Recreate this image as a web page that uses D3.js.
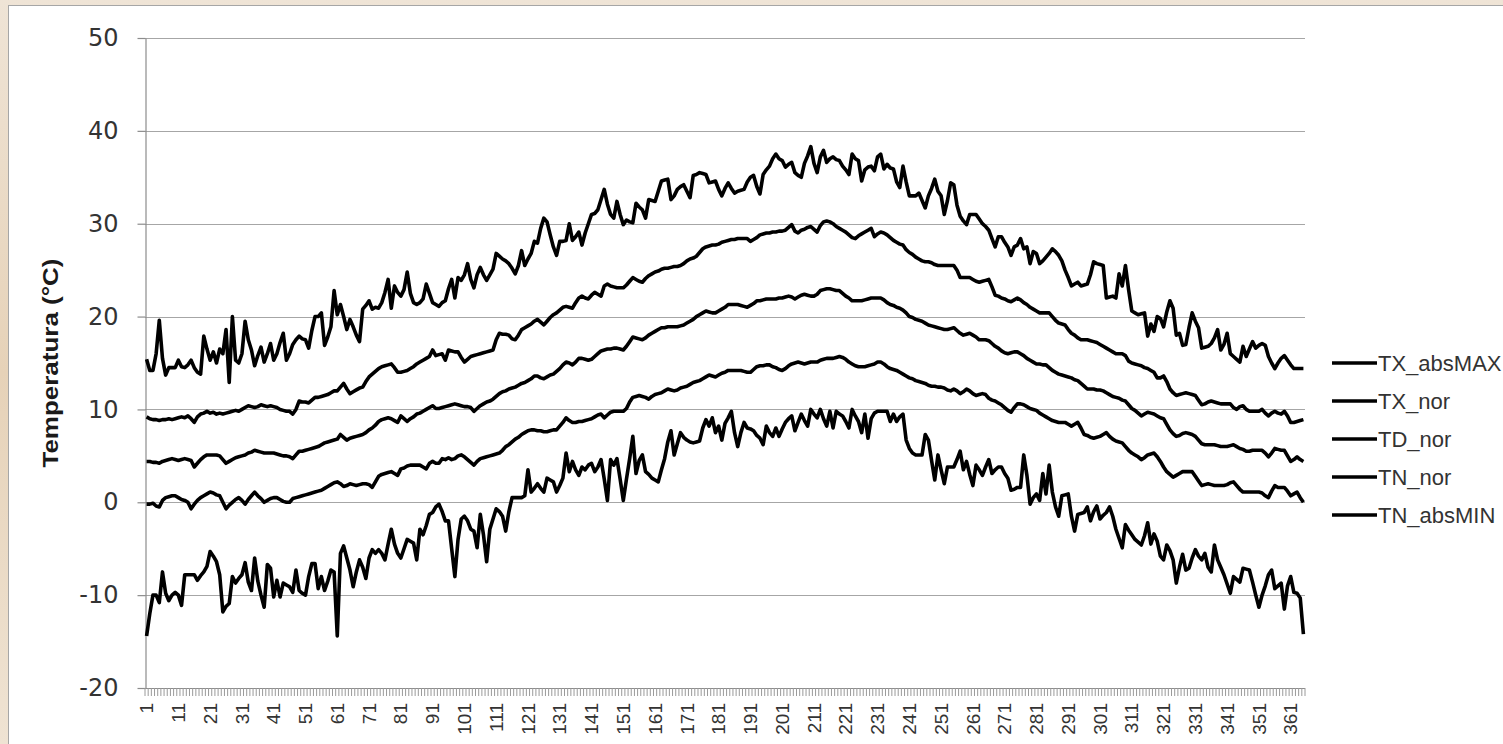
<!DOCTYPE html>
<html>
<head>
<meta charset="utf-8">
<script src="https://cdn.jsdelivr.net/npm/d3@7.9.0/dist/d3.min.js"></script>
<style>
  body { margin: 0; background: #eadcc9; }
  svg { display: block; }
</style>
</head>
<body>
<svg id="chart" width="1503" height="744"></svg>
<script>
// categories and ticks
const days = d3.range(1, 366);
const xTickLabels = [1, 11, 21, 31, 41, 51, 61, 71, 81, 91, 101, 111, 121, 131, 141, 151, 161, 171, 181,
  191, 201, 211, 221, 231, 241, 251, 261, 271, 281, 291, 301, 311, 321, 331, 341, 351, 361];
const yTicks = [-20, -10, 0, 10, 20, 30, 40, 50];
const seriesNames = ["TX_absMAX", "TX_nor", "TD_nor", "TN_nor", "TN_absMIN"];
const yTitle = "Temperatura (°C)";

// daily values (°C)
const txAbsMax = [
  15.4, 14.2, 14.2, 16.0, 19.6, 15.5, 13.7, 14.5, 14.5, 14.5,
  15.3, 14.6, 14.5, 14.8, 15.3, 14.5, 14.0, 13.8, 17.9, 16.5,
  15.3, 16.2, 15.0, 16.5, 16.0, 18.6, 12.9, 20.0, 15.3, 15.0,
  16.0, 19.5, 17.5, 16.4, 14.7, 15.8, 16.7, 15.1, 16.0, 17.1,
  15.3, 16.0, 17.2, 18.2, 15.3, 16.0, 17.0, 17.5, 17.9, 17.6,
  17.5, 16.6, 18.5, 20.0, 20.0, 20.4, 16.9, 17.8, 18.9, 22.8,
  20.2, 21.3, 20.0, 18.6, 19.7, 18.9, 18.0, 17.3, 20.8, 21.2,
  21.7, 20.8, 21.0, 20.9, 21.5, 22.6, 24.0, 20.9, 23.3, 22.6,
  22.2, 22.9, 24.8, 22.5, 21.5, 21.3, 21.5, 21.9, 23.5, 22.5,
  21.5, 21.3, 21.1, 21.5, 21.7, 23.0, 24.0, 22.0, 24.2, 23.9,
  24.5, 25.7, 24.0, 23.1, 24.5, 25.3, 24.5, 23.9, 24.5, 25.1,
  26.8, 26.5, 26.2, 26.0, 25.7, 25.2, 24.6, 25.5, 27.1, 25.5,
  26.2, 26.8, 28.1, 27.9, 29.5, 30.6, 30.2, 28.8, 27.5, 26.6,
  28.1, 28.1, 28.2, 30.0, 28.2, 28.6, 29.1, 27.7, 29.0, 30.0,
  31.0, 31.1, 31.5, 32.6, 33.7, 32.1, 31.0, 30.6, 32.4, 31.0,
  29.9, 30.4, 30.2, 30.1, 32.2, 31.8, 31.5, 30.6, 32.6, 32.5,
  32.4, 33.5, 34.6, 34.7, 34.8, 32.6, 33.0, 33.7, 34.0, 34.2,
  33.5, 32.8, 35.2, 35.3, 35.5, 35.4, 35.3, 34.4, 34.5, 34.6,
  33.7, 33.0, 33.8, 34.4, 33.8, 33.3, 33.5, 33.6, 33.7, 34.5,
  35.0, 35.2, 34.0, 33.2, 35.3, 35.8, 36.2, 37.0, 37.5, 37.0,
  36.8, 36.1, 36.4, 36.6, 35.5, 35.2, 35.0, 36.5, 37.3, 38.3,
  36.5, 35.5, 37.2, 37.9, 36.6, 37.0, 37.2, 36.9, 36.8, 36.2,
  35.8, 35.3, 37.5, 37.0, 36.8, 34.6, 35.8, 36.1, 36.2, 35.7,
  37.2, 37.5, 35.9, 36.4, 36.0, 35.9, 34.5, 33.9, 36.2, 34.5,
  33.0, 33.0, 33.0, 33.3, 32.5, 31.7, 33.0, 33.8, 34.8, 33.5,
  33.0, 31.0, 32.5, 34.4, 34.2, 32.0, 30.8, 30.3, 29.9, 31.0,
  31.0, 31.0, 30.5, 30.0, 29.7, 29.3, 28.4, 27.5, 28.6, 28.6,
  28.0, 27.5, 26.6, 27.5, 27.7, 28.4, 27.3, 27.5, 25.7, 27.0,
  26.8, 25.7, 26.0, 26.4, 26.8, 27.3, 27.0, 26.6, 26.0, 25.0,
  24.2, 23.3, 23.5, 23.7, 23.3, 23.4, 23.5, 24.5, 25.9, 25.7,
  25.6, 25.5, 22.0, 22.1, 22.2, 22.0, 24.6, 23.3, 25.5, 22.9,
  20.6, 20.4, 20.2, 20.3, 20.4, 17.9, 19.2, 18.4, 20.0, 19.8,
  18.9, 20.5, 21.7, 20.9, 18.0, 18.2, 16.9, 17.0, 18.8, 20.4,
  19.5, 18.8, 16.6, 16.7, 16.8, 17.1, 17.7, 18.6, 16.4, 17.0,
  18.2, 16.0, 15.7, 15.4, 15.1, 16.8, 15.7, 16.5, 17.3, 16.6,
  16.9, 17.1, 16.9, 15.7, 15.0, 14.4, 15.0, 15.5, 15.8, 15.3,
  14.8, 14.4, 14.4, 14.4, 14.4
];
const txNor = [
  9.2, 9.0, 8.9, 8.9, 8.8, 8.9, 8.9, 9.0, 8.9, 9.0,
  9.1, 9.2, 9.1, 9.3, 9.0, 8.6, 9.2, 9.5, 9.6, 9.8,
  9.6, 9.7, 9.5, 9.6, 9.5, 9.6, 9.7, 9.8, 9.9, 9.8,
  10.0, 10.2, 10.4, 10.3, 10.2, 10.3, 10.5, 10.4, 10.3, 10.4,
  10.3, 10.2, 10.0, 9.9, 9.8, 9.8, 9.5, 10.0, 10.9, 10.8,
  10.8, 10.7, 11.0, 11.3, 11.3, 11.4, 11.5, 11.6, 11.8, 12.0,
  12.0, 12.4, 12.8, 12.2, 11.7, 11.9, 12.1, 12.3, 12.4, 13.0,
  13.5, 13.8, 14.1, 14.4, 14.6, 14.7, 14.8, 14.9, 14.5, 14.0,
  14.0, 14.1, 14.2, 14.4, 14.6, 14.9, 15.1, 15.3, 15.5, 15.7,
  16.4, 15.8, 15.9, 16.0, 15.3, 16.4, 16.3, 16.2, 16.2, 15.6,
  15.1, 15.4, 15.7, 15.8, 15.9, 16.0, 16.1, 16.2, 16.3, 16.4,
  17.5, 18.2, 18.1, 18.1, 18.0, 17.6, 17.5, 18.0, 18.6, 18.8,
  19.0, 19.2, 19.5, 19.7, 19.4, 19.1, 19.5, 19.9, 20.2, 20.4,
  20.7, 21.0, 21.1, 21.0, 20.9, 21.5, 22.0, 22.2, 22.0, 21.9,
  22.3, 22.6, 22.4, 22.2, 23.3, 23.5, 23.3, 23.2, 23.1, 23.1,
  23.1, 23.4, 23.8, 24.2, 24.0, 23.8, 23.7, 24.1, 24.4, 24.6,
  24.8, 24.9, 25.1, 25.2, 25.2, 25.3, 25.4, 25.4, 25.5, 25.7,
  26.0, 26.2, 26.3, 26.5, 26.9, 27.3, 27.5, 27.6, 27.7, 27.7,
  27.8, 28.0, 28.1, 28.2, 28.3, 28.3, 28.4, 28.4, 28.4, 28.4,
  28.1, 28.3, 28.5, 28.8, 28.9, 29.0, 29.0, 29.1, 29.1, 29.2,
  29.2, 29.3, 29.6, 29.9, 29.2, 29.0, 29.3, 29.4, 29.6, 29.7,
  29.4, 29.1, 29.8, 30.2, 30.3, 30.2, 30.0, 29.7, 29.5, 29.3,
  29.1, 28.8, 28.5, 28.4, 28.7, 28.9, 29.1, 29.3, 29.5, 28.6,
  28.9, 29.1, 29.0, 28.8, 28.5, 28.2, 28.0, 27.8, 27.7, 27.2,
  26.9, 26.7, 26.4, 26.2, 26.0, 25.9, 25.9, 25.8, 25.6, 25.5,
  25.5, 25.5, 25.5, 25.5, 25.5, 25.0, 24.2, 24.2, 24.2, 24.2,
  24.0, 23.8, 23.7, 23.8, 23.9, 24.0, 23.2, 22.3, 22.2, 22.0,
  21.9, 21.7, 21.6, 21.8, 22.0, 21.8, 21.5, 21.3, 21.0, 20.8,
  20.6, 20.4, 20.4, 20.4, 20.4, 20.0, 19.6, 19.3, 19.2, 19.1,
  18.6, 18.2, 18.0, 17.7, 17.5, 17.5, 17.5, 17.4, 17.3, 17.2,
  17.0, 16.8, 16.6, 16.4, 16.2, 16.0, 16.0, 16.0, 15.8, 15.2,
  15.0, 14.9, 14.8, 14.7, 14.5, 14.4, 14.2, 14.0, 13.4, 13.4,
  13.6, 13.0, 12.2, 11.8, 11.5, 11.6, 11.7, 11.8, 11.7, 11.6,
  11.5, 11.0, 10.5, 10.6, 10.8, 10.9, 10.8, 10.7, 10.6, 10.6,
  10.6, 10.6, 10.2, 10.0, 10.3, 10.4, 10.0, 9.8, 9.8, 9.8,
  9.8, 10.0, 9.6, 9.3, 9.6, 9.8, 9.6, 9.5, 9.8, 9.3,
  8.6, 8.6, 8.7, 8.8, 8.9
];
const tdNor = [
  4.4, 4.4, 4.3, 4.3, 4.2, 4.4, 4.5, 4.6, 4.7, 4.6,
  4.5, 4.6, 4.7, 4.6, 4.5, 3.8, 4.2, 4.6, 4.9, 5.1,
  5.1, 5.1, 5.1, 5.0, 4.6, 4.2, 4.4, 4.6, 4.8, 4.9,
  5.0, 5.1, 5.3, 5.4, 5.6, 5.5, 5.4, 5.3, 5.3, 5.3,
  5.3, 5.2, 5.1, 5.0, 5.0, 4.9, 4.7, 5.1, 5.5, 5.5,
  5.6, 5.7, 5.8, 5.9, 6.0, 6.2, 6.4, 6.5, 6.6, 6.7,
  6.8, 7.3, 7.0, 6.7, 6.9, 7.0, 7.1, 7.2, 7.3, 7.5,
  7.8, 8.0, 8.3, 8.7, 8.9, 9.0, 9.1, 9.0, 8.8, 8.6,
  9.3, 9.0, 8.7, 9.0, 9.2, 9.5, 9.6, 9.8, 10.0, 10.2,
  10.4, 10.1, 10.1, 10.2, 10.3, 10.4, 10.5, 10.6, 10.5, 10.4,
  10.3, 10.3, 10.2, 9.8, 10.1, 10.4, 10.6, 10.8, 10.9, 11.1,
  11.4, 11.7, 11.9, 12.0, 12.2, 12.3, 12.4, 12.6, 12.8, 12.9,
  13.1, 13.3, 13.6, 13.6, 13.4, 13.3, 13.5, 13.7, 13.8, 14.1,
  14.4, 14.8, 15.1, 15.0, 14.8, 15.1, 15.5, 15.5, 15.4, 15.3,
  15.4, 15.7, 16.0, 16.3, 16.4, 16.5, 16.5, 16.6, 16.6, 16.5,
  16.4, 16.8, 17.3, 17.8, 17.7, 17.6, 17.5, 17.7, 18.0, 18.2,
  18.4, 18.6, 18.8, 18.8, 18.9, 18.9, 18.9, 18.9, 19.0, 19.1,
  19.3, 19.5, 19.7, 20.0, 20.2, 20.4, 20.6, 20.5, 20.4, 20.4,
  20.6, 20.8, 21.0, 21.3, 21.3, 21.3, 21.3, 21.2, 21.1, 21.0,
  21.2, 21.4, 21.7, 21.7, 21.8, 21.9, 21.9, 21.9, 21.9, 22.0,
  22.0, 22.1, 22.2, 22.1, 21.9, 22.1, 22.3, 22.4, 22.3, 22.2,
  22.2, 22.4, 22.8, 22.9, 23.0, 23.0, 22.9, 22.8, 22.8, 22.5,
  22.2, 22.0, 21.7, 21.7, 21.7, 21.7, 21.8, 21.9, 22.0, 22.0,
  22.0, 22.0, 21.8, 21.5, 21.3, 21.2, 21.0, 20.9, 20.7, 20.4,
  20.0, 19.9, 19.7, 19.6, 19.5, 19.3, 19.1, 19.0, 18.9, 18.8,
  18.7, 18.6, 18.6, 18.7, 18.8, 18.5, 18.2, 18.0, 18.1, 18.2,
  18.0, 17.8, 17.5, 17.5, 17.5, 17.4, 17.1, 16.8, 16.6, 16.3,
  16.1, 16.0, 16.1, 16.2, 16.2, 16.0, 15.8, 15.5, 15.3, 15.1,
  14.9, 14.9, 14.8, 14.8, 14.5, 14.2, 14.0, 13.8, 13.7, 13.6,
  13.5, 13.4, 13.2, 13.1, 12.8, 12.5, 12.2, 12.2, 12.2, 12.1,
  12.1, 12.0, 11.8, 11.6, 11.4, 11.3, 11.2, 11.0, 10.9, 10.5,
  10.1, 9.9, 9.6, 9.3, 9.5, 9.7, 9.6, 9.5, 9.3, 9.1,
  9.0, 8.4, 7.8, 7.4, 7.1, 7.2, 7.4, 7.5, 7.4, 7.3,
  7.1, 6.7, 6.3, 6.2, 6.2, 6.2, 6.2, 6.1, 6.0, 6.0,
  6.0, 6.1, 6.2, 6.0, 5.8, 5.7, 5.5, 5.5, 5.6, 5.6,
  5.6, 5.6, 5.3, 4.9, 5.3, 5.8, 5.7, 5.6, 5.6, 5.0,
  4.4, 4.6, 4.9, 4.6, 4.4
];
const tnNor = [
  -0.2, -0.2, -0.1, -0.4, -0.5, 0.2, 0.5, 0.6, 0.7, 0.7,
  0.5, 0.3, 0.2, 0.0, -0.7, -0.2, 0.2, 0.5, 0.7, 0.9,
  1.1, 1.0, 0.8, 0.7, 0.0, -0.7, -0.3, 0.0, 0.3, 0.5,
  0.2, -0.2, 0.3, 0.7, 1.1, 0.7, 0.4, 0.0, 0.2, 0.4,
  0.5, 0.5, 0.3, 0.1, 0.0, 0.0, 0.4, 0.5, 0.6, 0.7,
  0.8, 0.9, 1.0, 1.1, 1.2, 1.3, 1.5, 1.7, 1.9, 2.1,
  2.2, 2.0, 1.7, 1.8, 2.0, 1.9, 1.8, 1.9, 2.0, 2.0,
  1.9, 1.6, 2.2, 2.8, 3.0, 3.1, 3.2, 3.3, 3.1, 2.9,
  3.6, 3.7, 3.9, 4.0, 4.0, 4.0, 4.0, 3.8, 3.6, 4.2,
  4.4, 4.2, 4.2, 4.7, 4.6, 4.8, 4.6, 4.7, 5.0, 5.1,
  4.9, 4.6, 4.3, 4.0, 4.4, 4.7, 4.8, 4.9, 5.0, 5.1,
  5.2, 5.3, 5.6, 6.0, 6.2, 6.5, 6.8, 7.0, 7.3, 7.5,
  7.7, 7.8, 7.8, 7.7, 7.7, 7.6, 7.6, 7.7, 7.8, 7.8,
  8.2, 8.6, 9.1, 8.8, 8.6, 8.6, 8.7, 8.7, 8.8, 8.9,
  9.0, 9.2, 9.4, 9.5, 9.1, 9.4, 9.7, 9.8, 9.8, 9.8,
  9.8, 10.1, 10.8, 11.3, 11.4, 11.5, 11.4, 11.3, 11.1, 11.4,
  11.6, 11.7, 11.8, 12.0, 12.2, 12.1, 12.0, 12.1, 12.3, 12.4,
  12.5, 12.7, 12.9, 13.0, 13.1, 13.3, 13.5, 13.7, 13.6, 13.5,
  13.7, 13.9, 14.0, 14.2, 14.2, 14.2, 14.2, 14.2, 14.1, 14.0,
  14.0, 14.3, 14.6, 14.7, 14.7, 14.8, 14.8, 14.6, 14.5, 14.3,
  14.2, 14.4, 14.7, 14.9, 15.0, 15.1, 15.0, 14.9, 15.0, 15.1,
  15.1, 15.1, 15.3, 15.4, 15.5, 15.5, 15.5, 15.6, 15.7, 15.6,
  15.4, 15.1, 14.9, 14.7, 14.6, 14.6, 14.6, 14.7, 14.8, 14.9,
  15.1, 15.1, 14.9, 14.6, 14.4, 14.3, 14.2, 14.0, 13.8, 13.6,
  13.4, 13.3, 13.1, 13.0, 12.9, 12.8, 12.6, 12.5, 12.5, 12.4,
  12.4, 12.3, 12.1, 12.0, 12.2, 12.0, 11.7, 11.9, 12.2, 12.0,
  11.7, 11.5, 11.6, 11.7, 11.6, 11.2, 11.0, 10.9, 10.7, 10.5,
  10.2, 9.9, 9.7, 10.2, 10.6, 10.6, 10.5, 10.3, 10.1, 10.0,
  9.9, 9.6, 9.4, 9.2, 9.0, 8.8, 8.7, 8.6, 8.6, 8.6,
  8.4, 8.2, 8.4, 8.6, 8.0, 7.3, 7.2, 7.0, 6.9, 7.0,
  7.1, 7.3, 7.5, 7.1, 6.8, 6.6, 6.5, 6.4, 6.0, 5.6,
  5.3, 5.1, 4.9, 4.6, 4.8, 5.1, 5.2, 5.3, 4.9, 4.4,
  3.8, 3.3, 3.0, 2.7, 2.9, 3.1, 3.3, 3.3, 3.3, 3.3,
  2.8, 2.3, 1.8, 1.9, 2.0, 1.9, 1.8, 1.8, 1.8, 1.8,
  1.9, 2.1, 2.2, 1.8, 1.4, 1.1, 1.1, 1.1, 1.1, 1.1,
  1.1, 1.0, 0.7, 0.5, 1.2, 1.8, 1.6, 1.6, 1.6, 1.2,
  0.7, 0.9, 1.1, 0.5, 0.0
];
const tnAbsMin = [
  -14.4, -12.0, -10.0, -10.0, -10.8, -7.5, -9.8, -10.6, -10.0, -9.7,
  -10.0, -11.1, -7.8, -7.8, -7.8, -7.8, -8.4, -7.9, -7.5, -6.9,
  -5.3, -5.8, -6.4, -7.8, -11.8, -11.2, -10.9, -8.0, -8.7, -8.2,
  -7.8, -6.5, -8.6, -9.5, -6.0, -8.5, -10.0, -11.3, -6.7, -7.1,
  -10.2, -8.4, -10.2, -8.7, -8.9, -9.1, -9.7, -7.3, -9.5, -9.8,
  -10.0, -8.0, -6.6, -6.6, -9.3, -8.0, -9.5, -8.5, -7.3, -7.5,
  -14.4, -5.5, -4.7, -6.0, -7.3, -9.1, -7.5, -6.2, -7.0, -8.2,
  -6.0, -5.1, -5.5, -5.1, -5.5, -6.2, -4.5, -2.9, -4.5, -5.5,
  -6.0, -5.0, -4.0, -4.2, -4.4, -6.2, -2.9, -3.5, -2.5, -1.3,
  -1.1, -0.5, -0.2, -1.0, -2.0, -2.0, -5.0, -8.0, -4.0, -1.8,
  -1.5, -2.0, -2.9, -3.1, -4.9, -1.3, -3.5, -6.4, -2.9, -1.8,
  -0.7, -1.0, -1.5, -3.1, -1.0, 0.5, 0.5, 0.5, 0.5, 0.7,
  3.5, 1.1, 1.5, 2.0, 1.5, 1.1, 2.6, 2.4, 2.2, 1.1,
  1.8, 2.6, 5.3, 3.3, 4.4, 3.5, 2.9, 3.8, 3.5, 4.0,
  4.2, 3.3, 3.8, 4.6, 2.5, 0.2, 4.6, 4.0, 4.7, 2.5,
  0.2, 2.5, 4.7, 7.1, 3.1, 4.5, 5.1, 3.3, 3.0, 2.6,
  2.4, 2.2, 3.5, 4.7, 6.5, 7.7, 5.1, 6.3, 7.5, 7.0,
  6.7, 6.5, 6.4, 6.5, 6.6, 8.0, 8.9, 8.2, 9.1, 7.5,
  8.2, 6.7, 8.5, 9.1, 9.8, 7.5, 6.0, 7.5, 8.6, 8.0,
  7.9, 7.7, 7.2, 6.9, 6.2, 8.2, 7.5, 7.1, 8.0, 7.1,
  7.9, 8.6, 9.0, 9.3, 7.7, 8.6, 9.5, 8.8, 8.2, 10.0,
  9.5, 9.1, 10.0, 9.0, 8.2, 9.8, 8.0, 9.8, 9.5, 9.3,
  8.7, 8.0, 10.0, 9.3, 8.7, 7.5, 9.5, 6.9, 9.0, 9.6,
  9.8, 9.8, 9.8, 9.8, 8.7, 9.5, 8.7, 9.2, 9.5, 6.7,
  5.8, 5.3, 5.1, 5.1, 5.1, 7.3, 6.7, 4.5, 2.4, 5.1,
  3.5, 2.0, 3.8, 3.8, 3.8, 4.6, 5.5, 3.5, 4.4, 3.0,
  1.8, 4.0, 3.5, 2.9, 3.8, 4.6, 3.1, 3.5, 3.8, 3.8,
  3.1, 2.6, 1.3, 1.4, 1.6, 1.6, 5.1, 2.9, -0.2, 0.5,
  0.9, 0.2, 3.1, 0.9, 4.0, 1.1, -0.5, -1.5, 0.7, 0.8,
  0.9, -1.5, -3.1, -1.3, -1.2, -1.1, -0.5, -2.0, -1.0, -0.4,
  -1.8, -1.4, -1.1, -0.5, -1.5, -2.9, -3.9, -4.9, -2.4, -3.0,
  -3.5, -4.0, -4.3, -4.6, -3.6, -2.2, -4.5, -3.4, -4.2, -5.8,
  -6.2, -4.6, -5.2, -6.2, -8.7, -7.0, -5.6, -7.3, -7.1, -6.0,
  -5.1, -5.8, -6.2, -5.5, -7.0, -7.5, -4.6, -6.2, -7.0, -7.8,
  -8.8, -9.8, -8.0, -8.3, -8.6, -7.1, -7.2, -7.3, -8.6, -10.0,
  -11.3, -10.0, -9.0, -7.8, -7.3, -9.3, -9.0, -8.7, -11.5, -9.0,
  -8.0, -9.7, -9.8, -10.3, -14.2
];

const seriesValues = [txAbsMax, txNor, tdNor, tnNor, tnAbsMin];

// layout
const width = 1503, height = 744;
const plot = { left: 145, right: 1305, top: 38, bottom: 688 };

const svg = d3.select('#chart');

// beige frame and white panel
const grad = svg.append('defs').append('linearGradient')
  .attr('id', 'frameGrad').attr('x1', 0).attr('y1', 0).attr('x2', 0).attr('y2', 1);
grad.append('stop').attr('offset', 0).attr('stop-color', '#efe4d6');
grad.append('stop').attr('offset', 0.5).attr('stop-color', '#e6d2b8');
grad.append('stop').attr('offset', 1).attr('stop-color', '#efe3d3');
svg.append('rect').attr('width', width).attr('height', height).attr('fill', 'url(#frameGrad)');
svg.append('rect')
  .attr('x', 8.5).attr('y', 5.5)
  .attr('width', width).attr('height', height)
  .attr('fill', '#ffffff').attr('stroke', '#a6a6a6');

// scales
const x = d3.scaleBand().domain(days).range([plot.left, plot.right]).paddingInner(0).paddingOuter(0);
const y = d3.scaleLinear().domain([-20, 50]).range([plot.bottom, plot.top]);
const cx = d => x(d) + x.bandwidth() / 2;

// gridlines
svg.append('g')
  .selectAll('line')
  .data(yTicks.filter(t => t !== -20))
  .join('line')
  .attr('x1', plot.left).attr('x2', plot.right)
  .attr('y1', d => Math.round(y(d)) + 0.5).attr('y2', d => Math.round(y(d)) + 0.5)
  .attr('stroke', '#a6a6a6').attr('stroke-width', 1.2);

// y axis (plain hyphen for negatives, as in the original)
const yAxis = svg.append('g')
  .attr('transform', `translate(${plot.left + 0.5},0)`)
  .call(d3.axisLeft(y).tickValues(yTicks).tickFormat(d => String(d))
    .tickSize(8).tickPadding(19).tickSizeOuter(0));
yAxis.select('.domain').attr('stroke', '#8c8c8c').attr('stroke-width', 1.2);
yAxis.selectAll('.tick line').attr('stroke', '#8c8c8c').attr('stroke-width', 1.2);
yAxis.selectAll('.tick text')
  .attr('font-family', 'DejaVu Sans, Liberation Sans, sans-serif')
  .attr('font-size', 24).attr('fill', '#333');

// x axis line and per-day ticks
svg.append('line')
  .attr('x1', plot.left).attr('x2', plot.right)
  .attr('y1', plot.bottom + 0.5).attr('y2', plot.bottom + 0.5)
  .attr('stroke', '#8c8c8c').attr('stroke-width', 1.2);
svg.append('g')
  .selectAll('line')
  .data(days.concat([366]))
  .join('line')
  .attr('x1', d => d === 366 ? plot.right : x(d))
  .attr('x2', d => d === 366 ? plot.right : x(d))
  .attr('y1', plot.bottom).attr('y2', plot.bottom + 8)
  .attr('stroke', '#9a9a9a').attr('stroke-width', 1);

// x tick labels (rotated)
svg.append('g')
  .selectAll('text')
  .data(xTickLabels)
  .join('text')
  .attr('transform', d => `translate(${cx(d)},${plot.bottom + 15}) rotate(-90)`)
  .attr('text-anchor', 'end')
  .attr('dy', '0.35em')
  .attr('font-family', 'Liberation Sans, Arial, sans-serif')
  .attr('font-size', 19).attr('fill', '#333')
  .text(d => d);

// y title
svg.append('text')
  .attr('transform', `translate(58,363) rotate(-90)`)
  .attr('text-anchor', 'middle')
  .attr('font-family', 'Liberation Sans, Arial, sans-serif')
  .attr('font-weight', 'bold')
  .attr('font-size', 22)
  .attr('textLength', 209).attr('lengthAdjust', 'spacingAndGlyphs')
  .attr('fill', '#1a1a1a')
  .text(yTitle);

// series lines
const line = d3.line()
  .x((v, i) => cx(days[i]))
  .y(v => y(v));

svg.append('g')
  .selectAll('path')
  .data(seriesValues)
  .join('path')
  .attr('d', d => line(d))
  .attr('fill', 'none')
  .attr('stroke', '#000')
  .attr('stroke-width', 3.6)
  .attr('stroke-linejoin', 'round');

// legend
const legend = svg.append('g')
  .selectAll('g')
  .data(seriesNames)
  .join('g')
  .attr('transform', (d, i) => `translate(1332,${363 + i * 38})`);
legend.append('line')
  .attr('x1', 0).attr('x2', 45)
  .attr('stroke', '#000').attr('stroke-width', 3.6);
legend.append('text')
  .attr('x', 46).attr('dy', '0.36em')
  .attr('font-family', 'Liberation Sans, Arial, sans-serif')
  .attr('font-size', 22).attr('fill', '#333')
  .text(d => d);
</script>
</body>
</html>
